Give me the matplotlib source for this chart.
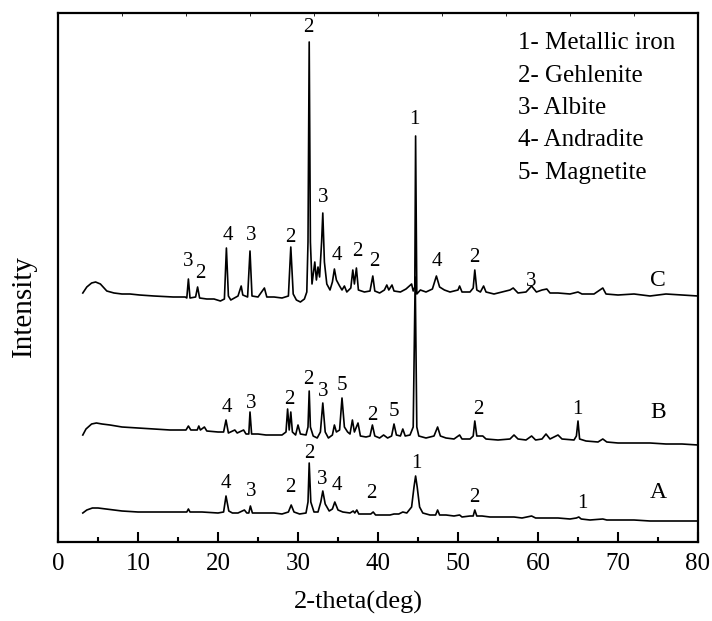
import matplotlib
matplotlib.use("Agg")
import matplotlib.pyplot as plt
from matplotlib.ticker import MultipleLocator

plt.rcParams["font.family"] = ["Liberation Serif", "DejaVu Serif"]

# 衍射图谱 (2θ, 强度)，按图读取的折线点
c_x = [3.1, 3.6, 4.2, 4.7, 5.3, 6.1, 7, 8, 9, 10.2, 12, 14.4, 15.9, 16.1, 16.3, 16.5,
       17.2, 17.45, 17.7, 18.6, 19.5, 20.3, 20.8, 21.05, 21.3, 21.6, 22.5, 22.9, 23.1,
       23.7, 24.0, 24.25, 25.0, 25.8, 26.1, 27, 28, 28.8, 29.1, 29.4, 29.8, 30.3, 30.8,
       31.1, 31.25, 31.4, 31.55, 31.75, 32.1, 32.3, 32.5, 32.7, 32.95, 33.1, 33.3, 33.6,
       34.0, 34.3, 34.55, 34.8, 35.2, 35.5, 35.8, 36.1, 36.6, 36.85, 37.05, 37.3, 37.55,
       38.3, 39.0, 39.35, 39.6, 40.2, 40.8, 41.1, 41.35, 41.75, 42.0, 42.8, 43.5, 44.2,
       44.4, 44.6, 44.7, 44.85, 45.3, 46, 46.8, 47.3, 47.7, 48.3, 49, 50, 50.2, 50.5,
       51.5, 51.9, 52.1, 52.35, 52.8, 53.2, 53.5, 54.5, 55.5, 56.5, 56.9, 57.5, 58.5,
       59.2, 59.8, 60.5, 61.1, 61.5, 62.5, 64, 65, 65.5, 67, 68.1, 68.5, 70, 72, 74, 76,
       78, 80]
c_y = [249, 255, 259, 260, 258, 251, 249, 248, 248, 247, 246, 245, 245, 244, 263, 244,
       245, 255, 244, 243, 243, 241, 243, 294, 246, 242, 246, 256, 247, 245, 291, 246,
       245, 254, 245, 245, 244, 246, 295, 248, 242, 240, 243, 250, 300, 500, 300, 258,
       280, 262, 275, 265, 300, 329, 280, 258, 252, 260, 273, 262, 256, 252, 256, 250,
       254, 272, 258, 274, 252, 250, 251, 266, 251, 249, 252, 257, 252, 257, 251, 250,
       253, 258, 251, 255, 406, 248, 252, 250, 253, 266, 255, 252, 250, 252, 256, 250,
       250, 254, 272, 252, 250, 256, 250, 248, 250, 252, 254, 249, 250, 256, 250, 252,
       253, 249, 249, 248, 250, 248, 248, 254, 248, 247, 248, 246, 248, 247, 246]

b_x = [3.1, 3.5, 4.2, 4.8, 5.5, 6.5, 8, 10, 12, 14, 16.0, 16.3, 16.6, 17.4, 17.6, 17.8,
       18.3, 18.6, 20, 20.7, 21.0, 21.3, 22.1, 22.4, 23.2, 23.5, 23.85, 24.0, 24.2, 25,
       26, 27, 28, 28.5, 28.7, 28.9, 29.1, 29.3, 29.7, 30.0, 30.3, 31.0, 31.25, 31.4,
       31.55, 31.9, 32.4, 32.8, 33.1, 33.4, 33.8, 34.3, 34.55, 34.8, 35.2, 35.5, 35.8,
       36.2, 36.5, 36.8, 37.05, 37.5, 37.8, 38.5, 39.0, 39.3, 39.6, 40.2, 40.7, 41.2,
       41.7, 42.0, 42.3, 42.8, 43.1, 43.4, 44.0, 44.4, 44.65, 44.85, 45.1, 46, 47.0,
       47.45, 47.8, 48.5, 49.5, 50.2, 50.5, 51.5, 51.9, 52.1, 52.35, 53.1, 53.5, 55,
       56.5, 57.0, 57.5, 58.5, 59.2, 59.7, 60.5, 61.0, 61.5, 62.5, 63.0, 64.5, 64.8,
       65.0, 65.2, 66, 67.5, 68.1, 68.6, 70, 72, 74, 76, 78, 80]
b_y = [107, 113, 118, 119, 118, 117, 115, 114, 113, 112, 112, 116, 112, 112, 116, 112,
       115, 111, 110, 110, 122, 109, 112, 109, 112, 108, 108, 130, 108, 108, 107, 107,
       107, 110, 133, 112, 130, 110, 107, 117, 108, 107, 115, 151, 115, 106, 104, 110,
       139, 110, 104, 107, 117, 110, 112, 144, 115, 110, 108, 122, 110, 119, 106, 105,
       106, 117, 106, 104, 107, 104, 106, 118, 107, 106, 113, 106, 107, 115, 265, 115,
       106, 104, 106, 115, 106, 104, 103, 107, 103, 103, 106, 121, 106, 106, 103, 102,
       103, 107, 103, 102, 106, 102, 103, 108, 103, 107, 103, 102, 106, 121, 103, 101,
       100, 103, 100, 99, 99, 99, 98, 98, 97]

a_x = [3.1, 3.6, 4.3, 5.0, 6, 7, 8, 10, 12, 14, 16.1, 16.3, 16.5, 18, 20, 20.7, 21.0,
       21.35, 21.8, 22.5, 23.3, 23.6, 23.85, 24.05, 24.3, 25, 26, 27, 28, 28.8, 29.15,
       29.5, 30.2, 31.0, 31.25, 31.4, 31.6, 32.0, 32.5, 32.85, 33.1, 33.4, 33.9, 34.3,
       34.6, 35.0, 35.6, 36.5, 36.9, 37.1, 37.35, 37.6, 38.5, 39.1, 39.4, 39.7, 40.5,
       41.5, 42.0, 42.6, 43.1, 43.6, 44.2, 44.5, 44.7, 44.9, 45.2, 45.6, 46.5, 47.2,
       47.45, 47.7, 48.5, 49.5, 50.2, 50.5, 51.5, 51.9, 52.1, 52.35, 53, 54, 55, 56,
       57, 58, 59.2, 59.7, 60.5, 61.5, 62.5, 64, 64.8, 65.1, 65.4, 66.5, 68.1, 68.6,
       70, 72, 74, 76, 78, 80]
a_y = [29, 32, 34, 34, 33, 32, 31, 30, 30, 30, 30, 33, 30, 30, 29, 30, 46, 31, 29, 29,
       32, 29, 29, 36, 29, 29, 29, 29, 28, 30, 37, 30, 28, 29, 40, 79, 40, 30, 30, 40,
       51, 38, 31, 33, 40, 32, 30, 29, 31, 29, 32, 28, 28, 28, 30, 27, 27, 27, 28, 28,
       30, 29, 35, 55, 66, 55, 35, 29, 27, 27, 32, 27, 27, 26, 27, 25, 26, 26, 32, 26,
       26, 25, 25, 25, 25, 24, 26, 24, 24, 24, 24, 23, 24, 25, 23, 22, 23, 22, 22, 22,
       21, 21, 21, 21]

# 物相标记 (位置, 高度, 编号)
c_lab_x = [16.25, 17.75, 21.25, 24.1, 29.1, 31.25, 33.2, 34.8, 37.4, 39.6, 44.6, 47.3, 52.1, 59.2]
c_lab_y = [280, 269, 307, 307, 305, 514, 344, 287, 290, 280, 422, 280, 285, 260]
c_lab = ["3", "2", "4", "3", "2", "2", "3", "4", "2", "2", "1", "4", "2", "3"]

b_lab_x = [21.1, 24.1, 28.9, 31.3, 33.2, 35.5, 39.3, 42.0, 52.5, 64.9]
b_lab_y = [134, 139, 142, 162, 150, 157, 127, 130, 132, 132]
b_lab = ["4", "3", "2", "2", "3", "5", "2", "5", "2", "1"]

a_lab_x = [21.0, 24.1, 29.0, 31.4, 33.0, 34.8, 39.2, 44.8, 52.1, 65.5]
a_lab_y = [59, 50, 55, 89, 63, 56, 48, 79, 44, 39]
a_lab = ["4", "3", "2", "2", "3", "4", "2", "1", "2", "1"]

sample_names = ["C", "B", "A"]
sample_y = [262, 129, 49]

phases = ["1- Metallic iron", "2- Gehlenite", "3- Albite", "4- Andradite", "5- Magnetite"]

fig = plt.figure(figsize=(7.12, 6.21), dpi=100)
ax = fig.add_axes([58 / 712, 79 / 621, 640 / 712, 529 / 621])

for xs, ys in [(a_x, a_y), (b_x, b_y), (c_x, c_y)]:
    ax.plot(xs, ys, color="black", linewidth=1.2)

for lx, ly, lt in [(c_lab_x, c_lab_y, c_lab), (b_lab_x, b_lab_y, b_lab), (a_lab_x, a_lab_y, a_lab)]:
    for x, y, t in zip(lx, ly, lt):
        ax.text(x, y, t, ha="center", va="center", fontsize=15)

for name, y in zip(sample_names, sample_y):
    ax.text(75.0, y, name, ha="center", va="center", fontsize=17)

for i, p in enumerate(phases):
    ax.text(57.5, 499 - i * 32.5, p, ha="left", va="center", fontsize=18)

ax.set_xlim(0, 80)
ax.set_ylim(0, 529)
ax.xaxis.set_major_locator(MultipleLocator(10))
ax.xaxis.set_minor_locator(MultipleLocator(5))
ax.set_yticks([])
ax.tick_params(axis="x", which="major", direction="in", length=7, width=1.5,
               labelsize=18, pad=8)
ax.tick_params(axis="x", which="minor", direction="in", length=3.5, width=1.5)
for s in ax.spines.values():
    s.set_linewidth(1.6)

# 顶部的小刻度
top = ax.twiny()
top.set_xlim(0, 80)
top.set_xticks(range(0, 81, 8))
top.tick_params(axis="x", direction="in", length=2.5, width=0.6, labeltop=False)
for s in top.spines.values():
    s.set_visible(False)

ax.set_xlabel("2-theta(deg)", fontsize=19, va="center")
ax.xaxis.set_label_coords(0.47, -0.115)
ax.set_ylabel("Intensity", fontsize=21, va="center")
ax.yaxis.set_label_coords(-0.053, 0.446)

fig.savefig("out.png", dpi=100)
